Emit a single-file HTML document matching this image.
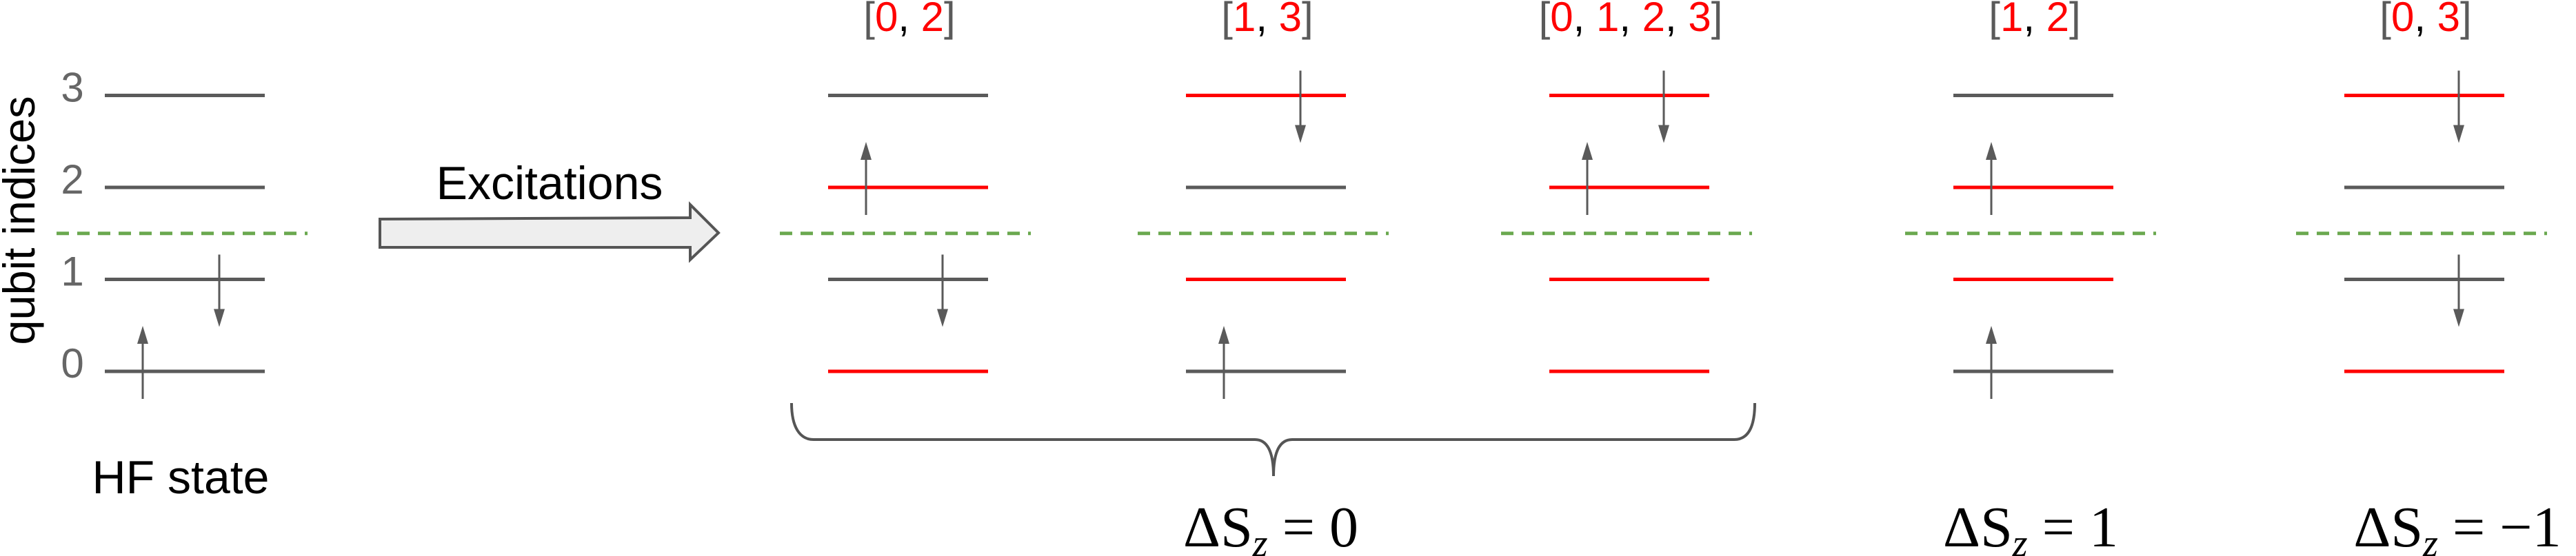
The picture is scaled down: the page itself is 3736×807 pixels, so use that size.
<!DOCTYPE html>
<html><head><meta charset="utf-8"><style>
html,body{margin:0;padding:0;background:#fff;}
svg{display:block;}
</style></head><body>
<svg id="fig" width="3736" height="807" viewBox="0 0 3736 807" xmlns="http://www.w3.org/2000/svg">
  <text transform="translate(50,320) rotate(-90)" text-anchor="middle" font-family="Liberation Sans, sans-serif" font-size="65" fill="#000">qubit indices</text>
  <text x="262" y="716" text-anchor="middle" font-family="Liberation Sans, sans-serif" font-size="68" fill="#000">HF state</text>
  <text x="797" y="289" text-anchor="middle" font-family="Liberation Sans, sans-serif" font-size="68" fill="#000">Excitations</text>
  <polygon points="551,318 1001,316 1001,297 1042,338 1001,377 1001,359 551,359" fill="#eeeeee" stroke="#555" stroke-width="4"/>
  <path d="M1148,585 C1148,620 1160,638 1180,638 L1820,638 C1840,638 1847,660 1847,691 C1847,660 1854,638 1874,638 L2515,638 C2535,638 2545,620 2545,585" fill="none" stroke="#555" stroke-width="4"/>
  <g font-family="Liberation Serif, DejaVu Serif, serif" fill="#000" font-size="84">
    <text x="1843" y="793" text-anchor="middle">ΔS<tspan font-style="italic" font-size="56" dy="14">z</tspan><tspan dy="-14"> = 0</tspan></text>
    <text x="2945" y="793" text-anchor="middle">ΔS<tspan font-style="italic" font-size="56" dy="14">z</tspan><tspan dy="-14"> = 1</tspan></text>
    <text x="3564" y="793" text-anchor="middle">ΔS<tspan font-style="italic" font-size="56" dy="14">z</tspan><tspan dy="-14"> = −1</tspan></text>
  </g>
</svg>
<script>
// qubit levels 0..3
const levels = [0, 1, 2, 3];
const columnNames = ['hf', 'ex-0-2', 'ex-1-3', 'ex-0-1-2-3', 'ex-1-2', 'ex-0-3'];
const columnLabels = [null, [0,2], [1,3], [0,1,2,3], [1,2], [0,3]];
// excited (red) qubits per column
const redQubits = [[], [0,2], [1,3], [0,1,2,3], [1,2], [0,3]];
// occupied electrons: [level, 'up'|'down']
const electrons = [
  [[0,'up'],[1,'down']],
  [[2,'up'],[1,'down']],
  [[0,'up'],[3,'down']],
  [[2,'up'],[3,'down']],
  [[2,'up'],[0,'up']],
  [[3,'down'],[1,'down']]
];
const levelTickLabels = ['0','1','2','3'];

const colX0 = [152, 1201, 1720, 2247, 2833, 3400];
const lineW = 232;
const yOf = l => 539 - l * 133.5;
const fermiY = () => (yOf(1) + yOf(2)) / 2;
const svg = document.getElementById('fig');
const NS = 'http://www.w3.org/2000/svg';
function mk(tag, attrs){ const e = document.createElementNS(NS, tag); for (const k in attrs) e.setAttribute(k, attrs[k]); svg.appendChild(e); return e; }

levelTickLabels.forEach((t, i) => {
  const e = mk('text', {x: 105, y: yOf(levels[i]) + 9, 'text-anchor': 'middle', 'font-family': 'Liberation Sans, sans-serif', 'font-size': 60, fill: '#666'});
  e.textContent = t;
  
  
});

columnNames.forEach((name, c) => {
  const x0 = colX0[c];
  const fl = mk('line', {x1: x0 - 70, x2: x0 + lineW + 62, y1: fermiY(), y2: fermiY(), stroke: '#6aa84f', 'stroke-width': 5, 'stroke-dasharray': '18,12'});
  
  
  levels.forEach(l => {
    const red = redQubits[c].includes(l);
    const ln = mk('line', {x1: x0, x2: x0 + lineW, y1: yOf(l), y2: yOf(l), stroke: red ? '#ff0000' : '#5a5a5a', 'stroke-width': 5});
    
    
  });
  electrons[c].forEach(([l, dir]) => {
    const up = dir === 'up';
    const ax = x0 + (up ? 55 : 166);
    const y = yOf(l);
    const yA = up ? y + 40 : y - 36;
    const yB = up ? y - 66 : y + 69;
    const ln = mk('line', {x1: ax, x2: ax, y1: yA, y2: up ? yB + 26 : yB - 26, stroke: '#5a5a5a', 'stroke-width': 3});
    
    
    const h = up ? 26 : -26;
    const hd = mk('polygon', {points: `${ax},${yB} ${ax-8},${yB+h} ${ax+8},${yB+h}`, fill: '#5a5a5a'});
    
    
  });
  const lab = columnLabels[c];
  if (lab) {
    const t = mk('text', {x: x0 + lineW / 2 + 2, y: 45, 'text-anchor': 'middle', 'font-family': 'Liberation Sans, sans-serif', 'font-size': 60, fill: '#5a5a5a'});
    
    
    let html = '[';
    lab.forEach((v, i) => { html += `<tspan fill="#ff0000">${v}</tspan>` + (i < lab.length - 1 ? '<tspan fill="#000">,</tspan> ' : ''); });
    html += ']';
    t.innerHTML = html;
  }
});
</script>
</body></html>
